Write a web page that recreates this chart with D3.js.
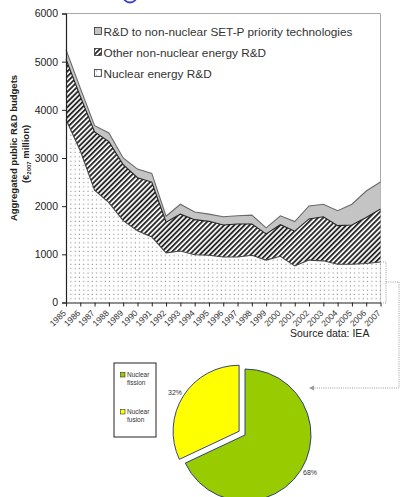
<!DOCTYPE html>
<html>
<head>
<meta charset="utf-8">
<script src="https://cdn.jsdelivr.net/npm/d3@7"></script>
<style>
  html, body { margin: 0; padding: 0; background: #fff; }
  svg { display: block; font-family: "Liberation Sans", Arial, sans-serif; }
</style>
</head>
<body>
<svg id="chart" width="401" height="497"></svg>
<script>
// Public energy R&D budgets, € 2007 million
const years = ["1985","1986","1987","1988","1989","1990","1991","1992","1993","1994","1995","1996",
               "1997","1998","1999","2000","2001","2002","2003","2004","2005","2006","2007"];
const nuclearRD       = [3800,3150,2330,2075,1700,1490,1360,1030,1070,990,980,945,945,980,880,960,760,880,865,795,795,810,840];
const otherNonNuclear = [1250,1130,1210,1265,1160,1100,1140,635,765,730,705,665,685,650,545,655,720,855,915,800,815,955,1100];
const setpPriority    = [200,170,130,180,140,180,180,125,205,160,150,170,170,185,125,185,200,270,260,310,430,550,560];
const yTicks = [0,1000,2000,3000,4000,5000,6000];
const seriesNames = ["R&D to non-nuclear SET-P priority technologies","Other non-nuclear energy R&D","Nuclear energy R&D"];

// Nuclear R&D split
const pieLabels = [["Nuclear","fission"],["Nuclear","fusion"]];
const pieShares = [68, 32];

const FONT = "'Liberation Sans', Arial, sans-serif";
const svg = d3.select("#chart");
const defs = svg.append("defs");

// fill patterns
const dots = defs.append("pattern").attr("id","dots").attr("patternUnits","userSpaceOnUse")
  .attr("width",4.3).attr("height",4.3);
dots.append("rect").attr("width",4.3).attr("height",4.3).attr("fill","#fff");
dots.append("rect").attr("x",1.5).attr("y",1.5).attr("width",1.1).attr("height",1.1).attr("fill","#8a8a8a");

const hatch = defs.append("pattern").attr("id","hatch").attr("patternUnits","userSpaceOnUse")
  .attr("width",3.6).attr("height",3.6).attr("patternTransform","rotate(-45)");
hatch.append("rect").attr("width",3.6).attr("height",3.6).attr("fill","#fff");
hatch.append("rect").attr("width",3.6).attr("height",1.9).attr("fill","#2b2b2b");

// scales
const x = d3.scalePoint().domain(years).range([66, 380.5]);
const y = d3.scaleLinear().domain([0, 6000]).range([302.5, 13.5]);

// stacked data
const table = years.map((yr, i) => ({year: yr, nuclear: nuclearRD[i], other: otherNonNuclear[i], setp: setpPriority[i]}));
const stack = d3.stack().keys(["nuclear","other","setp"]);
const layers = stack(table);
const fills = {nuclear: "url(#dots)", other: "url(#hatch)", setp: "#c4c4c4"};
const strokes = {nuclear: "#444", other: "#222", setp: "#6a6a6a"};

// plot frame (top and right)
svg.append("path")
  .attr("d", `M66,${y(6000)}H380.5V${y(0)}`)
  .attr("fill","none").attr("stroke","#a8a8a8").attr("stroke-width",1);

const area = d3.area().x(d => x(d.data.year)).y0(d => y(d[0])).y1(d => y(d[1]));
const topLine = d3.line().x(d => x(d.data.year)).y(d => y(d[1]));

const g = svg.append("g");
g.selectAll("path.layer").data(layers).join("path")
  .attr("class","layer").attr("d", area).attr("fill", d => fills[d.key]).attr("stroke","none");
g.selectAll("path.edge").data(layers).join("path")
  .attr("class","edge").attr("d", topLine).attr("fill","none")
  .attr("stroke", d => strokes[d.key]).attr("stroke-width", 1.1);

// axes
const yAxis = svg.append("g").attr("transform","translate(66,0)")
  .call(d3.axisLeft(y).tickValues(yTicks).tickSize(4).tickPadding(4).tickFormat(d3.format("d")));
yAxis.select(".domain").attr("stroke","#222").attr("stroke-width",1.2);
yAxis.selectAll(".tick line").attr("stroke","#222");
yAxis.selectAll("text").attr("font-size","10.5px").attr("fill","#222").attr("font-family",FONT);

const xAxis = svg.append("g").attr("transform",`translate(0,${y(0)})`)
  .call(d3.axisBottom(x).tickSize(4).tickSizeOuter(0));
xAxis.select(".domain").attr("stroke","#222").attr("stroke-width",1.2);
xAxis.selectAll(".tick line").attr("stroke","#222");
xAxis.selectAll("text")
  .attr("font-size","8.5px").attr("fill","#333").attr("font-family",FONT)
  .attr("text-anchor","end").attr("y",0).attr("dy","0.35em")
  .attr("transform","translate(-2,9) rotate(-45)");

// y-axis title
const yTitle = svg.append("text").attr("transform","translate(17,148) rotate(-90)")
  .attr("text-anchor","middle").attr("font-weight","bold").attr("font-size","9.5px").attr("fill","#222");
yTitle.text("Aggregated public R&D budgets");
const yTitle2 = svg.append("text").attr("transform","translate(29,154) rotate(-90)")
  .attr("text-anchor","middle").attr("font-weight","bold").attr("font-size","9.5px").attr("fill","#222");
yTitle2.append("tspan").text("(€");
yTitle2.append("tspan").attr("font-size","6px").attr("dy","2").text("2007");
yTitle2.append("tspan").attr("dy","-2").text(" million)");

// legend
const legendFills = ["#c4c4c4","url(#hatch)","url(#dots)"];
const lg = svg.append("g");
seriesNames.forEach((name, i) => {
  const ly = 32 + i * 21;
  lg.append("rect").attr("x",94.5).attr("y",ly-4.5).attr("width",7).attr("height",7)
    .attr("fill",legendFills[i]).attr("stroke","#333").attr("stroke-width",0.8);
  lg.append("text").attr("x",103.5).attr("y",ly+4.2).attr("font-size","11.8px").attr("fill","#333").text(name);
});

// source note
svg.append("text").attr("x",290).attr("y",337).attr("font-size","10.5px").attr("fill","#222")
  .text("Source data: IEA");

// partial blue ring at the top edge
svg.append("circle").attr("cx",130).attr("cy",-4.5).attr("r",7)
  .attr("fill","none").attr("stroke","#3a3acb").attr("stroke-width",1.8);

// dotted connector from the nuclear band to the pie
const conn = svg.append("g").attr("fill","none").attr("stroke","#9a9a9a").attr("stroke-width",1)
  .attr("stroke-dasharray","1,1.2");
conn.append("path").attr("d","M383,262H386V303H383");
conn.append("path").attr("d","M386,282H399V388H313");
svg.append("path").attr("d","M309,388L314,385.5L314,390.5Z").attr("fill","#9a9a9a");

// pie chart
const pieG = svg.append("g").attr("transform","translate(245,435)");
const pie = d3.pie().sort(null).value(d => d);
const arc = d3.arc().innerRadius(0).outerRadius(66);
const pieColors = ["#99cc00","#ffff00"];
const slices = pie(pieShares);
pieG.selectAll("path").data(slices).join("path")
  .attr("transform", (d, i) => {
    if (i === 0) return null;
    const a = (d.startAngle + d.endAngle) / 2;
    return `translate(${Math.sin(a) * 7},${-Math.cos(a) * 7})`;
  })
  .attr("d", arc).attr("fill", (d, i) => pieColors[i])
  .attr("stroke","#1f2f80").attr("stroke-width",0.9);

const pctPos = [[310,475],[175,395]];
slices.forEach((d, i) => {
  svg.append("text").attr("x",pctPos[i][0]).attr("y",pctPos[i][1]).attr("text-anchor","middle")
    .attr("font-size","7px").attr("fill","#333").text(pieShares[i] + "%");
});

// pie legend
const pl = svg.append("g");
pl.append("rect").attr("x",114).attr("y",363).attr("width",42).attr("height",74)
  .attr("fill","#fff").attr("stroke","#222").attr("stroke-width",1);
pieLabels.forEach((lines, i) => {
  const ly = 377 + i * 37;
  pl.append("rect").attr("x",120.5).attr("y",ly-4.5).attr("width",4.5).attr("height",4.5)
    .attr("fill",pieColors[i]).attr("stroke","#333").attr("stroke-width",0.6);
  lines.forEach((t, j) => {
    pl.append("text").attr("x",127).attr("y",ly + j * 7.5).attr("font-size","6.5px").attr("fill","#333").text(t);
  });
});
</script>
</body>
</html>
